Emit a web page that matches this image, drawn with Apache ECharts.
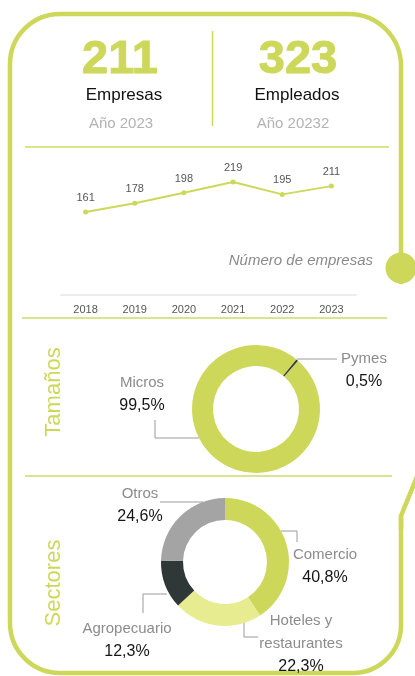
<!DOCTYPE html>
<html>
<head>
<meta charset="utf-8">
<script src="https://cdn.jsdelivr.net/npm/echarts@6/dist/echarts.min.js"></script>
<style>
html,body{margin:0;padding:0;background:#fff}
#main{width:415px;height:676px}
</style>
</head>
<body>
<div id="main"></div>
<script>
const headNumbers = [211, 323]
const headLabels = ['Empresas', 'Empleados']
const headYears = ['Año 2023', 'Año 20232']

const years = ['2018', '2019', '2020', '2021', '2022', '2023']
const empresas = [161, 178, 198, 219, 195, 211]

const tamanoNames = ['Micros', 'Pymes']
const tamanoValues = [99.5, 0.5]

const sectorNames = ['Comercio', 'Hoteles y\nrestaurantes', 'Agropecuario', 'Otros']
const sectorValues = [40.8, 22.3, 12.3, 24.6]

const green = '#cdd85a'
const sepGreen = '#dbe48c'
const font = '"Liberation Sans", Arial, sans-serif'

// where each pie label sits (center x, top y) and its leader line
const tamanoSpots = [
  { x: 142, y: 371, line: [[199, 438], [155, 438], [155, 420]] },
  { x: 364, y: 347, line: [[297, 359], [337, 359]] }
]
const sectorSpots = [
  { x: 325, y: 543, line: [[281, 531], [297, 531], [297, 542]] },
  { x: 301, y: 609, line: [[244, 622], [244, 637], [258, 637]] },
  { x: 127, y: 617, line: [[167, 594], [143, 594], [143, 613]] },
  { x: 140, y: 482, line: [[203, 502], [160, 502]] }
]

function pct(v) {
  return v.toFixed(1).replace('.', ',') + '%'
}
function pieLabel(p) {
  let lines = p.name.split('\n').map(s => '{n|' + s + '}')
  return lines.join('\n') + '\n{v|' + pct(p.value) + '}'
}
function spotLayout(spots) {
  return function (params) {
    let s = spots[params.dataIndex]
    return { x: s.x, y: s.y, align: 'center', verticalAlign: 'top', labelLinePoints: s.line }
  }
}
const pieRich = {
  n: { fontSize: 15, color: '#8c8c8c', lineHeight: 23, fontFamily: font },
  v: { fontSize: 16, color: '#151515', lineHeight: 23, fontFamily: font }
}

function txt(x, y, text, size, color, extra) {
  return {
    type: 'text', x: x, y: y, z: 10,
    style: Object.assign({
      text: text, fontSize: size, fontFamily: font, fill: color,
      align: 'center', verticalAlign: 'middle'
    }, extra || {})
  }
}
function hline(x1, x2, y) {
  return { type: 'line', z: 5, shape: { x1: x1, y1: y, x2: x2, y2: y }, style: { stroke: sepGreen, lineWidth: 2 } }
}

let chart = echarts.init(document.getElementById('main'))

let graphics = [
  // outer frame
  { type: 'rect', z: 1, shape: { x: 10, y: 14, width: 391, height: 659, r: [50, 52, 48, 50] },
    style: { fill: null, stroke: green, lineWidth: 4.5 } },
  { type: 'rect', z: 2, shape: { x: 396, y: 284, width: 10, height: 232 }, style: { fill: '#fff' } },
  { type: 'polyline', z: 3, shape: { points: [[418, 474], [401, 516], [401, 530]] },
    style: { fill: null, stroke: green, lineWidth: 4.5 } },
  { type: 'circle', z: 4, shape: { cx: 401, cy: 268, r: 15.5 }, style: { fill: green } },
  // separators
  { type: 'line', z: 5, shape: { x1: 212.5, y1: 31, x2: 212.5, y2: 126 }, style: { stroke: green, lineWidth: 1.5 } },
  hline(25, 389, 147),
  hline(22, 387, 318),
  hline(25, 392, 476),
  // headline
  txt(120, 60, String(headNumbers[0]), 47, green, { fontWeight: 'bold', stroke: green, lineWidth: 1 }),
  txt(298, 60, String(headNumbers[1]), 47, green, { fontWeight: 'bold', stroke: green, lineWidth: 1 }),
  txt(124, 95, headLabels[0], 17, '#111'),
  txt(297, 95, headLabels[1], 17, '#111'),
  txt(121, 124, headYears[0], 15, '#b3b3b3'),
  txt(293, 124, headYears[1], 15, '#b3b3b3'),
  txt(373, 261, 'Número de empresas', 15, '#8a8a8a', { align: 'right', fontStyle: 'italic' }),
  Object.assign(txt(54, 392, 'Tamaños', 22, green), { rotation: Math.PI / 2 }),
  Object.assign(txt(54, 583, 'Sectores', 22, green), { rotation: Math.PI / 2 })
]

let option = {
  animation: false,
  graphic: { elements: graphics },
  grid: { left: 61, right: 59, top: 166, bottom: 381 },
  xAxis: {
    type: 'category',
    data: years,
    boundaryGap: true,
    axisLine: { lineStyle: { color: '#ececec', width: 2 } },
    axisTick: { show: false },
    axisLabel: { color: '#555', fontSize: 11, fontFamily: font, margin: 9 }
  },
  yAxis: { type: 'value', min: 0, max: 250, show: false },
  series: [
    {
      type: 'line',
      data: empresas,
      symbol: 'circle',
      symbolSize: 5,
      itemStyle: { color: green },
      lineStyle: { color: green, width: 2 },
      label: { show: true, position: 'top', distance: 6, color: '#555', fontSize: 11, fontFamily: font },
      silent: true
    },
    {
      type: 'pie',
      center: [256, 409],
      radius: [43, 64],
      startAngle: 49,
      avoidLabelOverlap: false,
      silent: true,
      data: tamanoNames.map((n, i) => ({ name: n, value: tamanoValues[i] })),
      color: [green, '#333a38'],
      label: { show: true, position: 'outside', formatter: pieLabel, rich: pieRich },
      labelLine: { show: true, lineStyle: { color: '#9a9a9a', width: 1 } },
      labelLayout: spotLayout(tamanoSpots)
    },
    {
      type: 'pie',
      center: [225, 562],
      radius: [42, 64],
      startAngle: 90,
      avoidLabelOverlap: false,
      silent: true,
      data: sectorNames.map((n, i) => ({ name: n, value: sectorValues[i] })),
      color: [green, '#e6ec8f', '#2f3836', '#a4a4a4'],
      label: { show: true, position: 'outside', formatter: pieLabel, rich: pieRich },
      labelLine: { show: true, lineStyle: { color: '#9a9a9a', width: 1 } },
      labelLayout: spotLayout(sectorSpots)
    }
  ]
}
chart.setOption(option)
</script>
</body>
</html>
